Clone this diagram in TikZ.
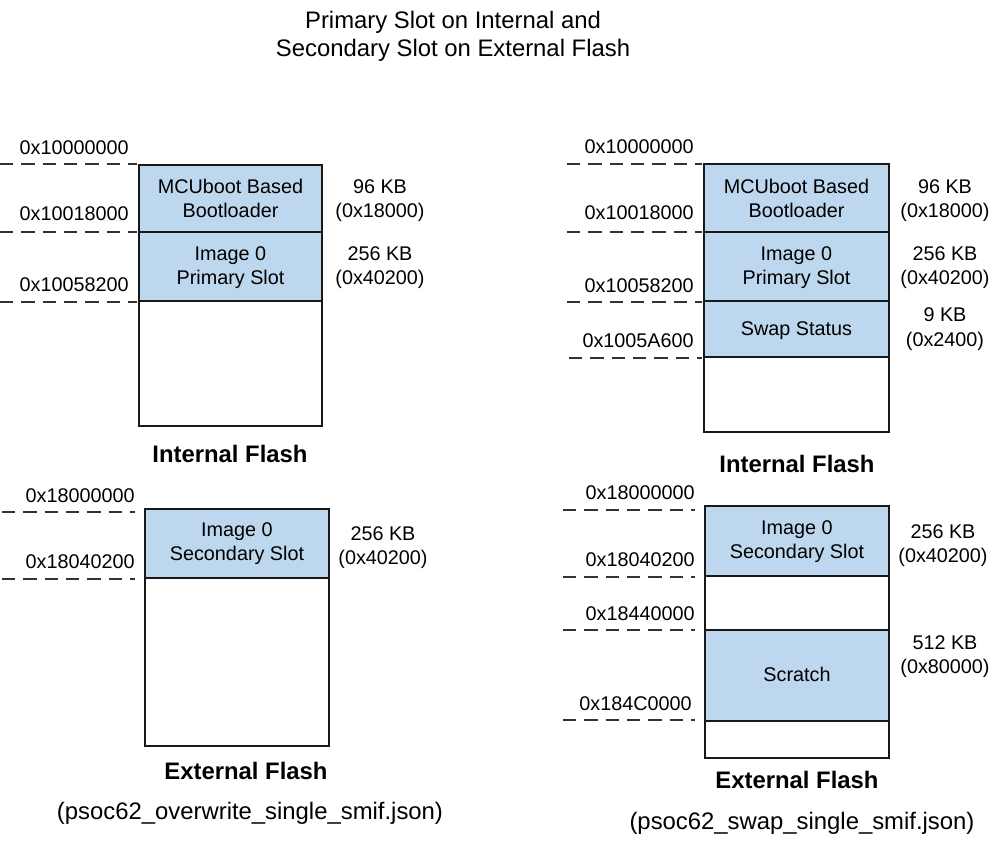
\documentclass[tikz,border=0pt]{standalone}
\usepackage{fontspec}
\setmainfont{Liberation Sans}
\definecolor{segblue}{RGB}{189,215,238}
\definecolor{boxline}{RGB}{25,25,25}
\definecolor{dashcol}{RGB}{50,50,50}
\newcommand\fsm{\fontsize{14.85pt}{18pt}\selectfont}
\newcommand\flg{\fontsize{17.9pt}{21pt}\selectfont}
\begin{document}
\begin{tikzpicture}[
  x=0.75pt, y=-0.75pt,
  seg/.style 2 args={draw=boxline, line width=1.5pt, inner sep=0pt, outer sep=0pt,
    anchor=north west, minimum width=#1*0.75pt, minimum height=#2*0.75pt},
  filled/.style={fill=segblue},
  txt/.style={font=\fsm, anchor=base, inner sep=0pt},
  addr/.style={font=\fsm, anchor=base east, inner sep=0pt},
  ttl/.style={font=\flg, anchor=base, inner sep=0pt},
  capb/.style={font=\flg\bfseries, anchor=base, inner sep=0pt},
  dline/.style={draw=dashcol, line width=1.5pt, dash pattern=on 10pt off 6pt},
]
\useasboundingbox (0,0) rectangle (1001,848);

% Title
\node[ttl] (t1) at (453,28.5) {Primary Slot on Internal and};
\node[ttl] (t2) at (453,56.5) {Secondary Slot on External Flash};

% ---------- Left top: internal flash (overwrite)
\node[seg={183}{67},filled] (A1) at (139,165) {};
\node[seg={183}{69},filled] (A2) at (139,232) {};
\node[seg={183}{125}] (A3) at (139,301) {};
\node[txt] (A1a) at (230.5,194) {MCUboot Based};
\node[txt] (A1b) at (230.5,218) {Bootloader};
\node[txt] (A2a) at (230.5,261) {Image 0};
\node[txt] (A2b) at (230.5,285) {Primary Slot};
\node[txt] (A1s) at (380,194) {96 KB};
\node[txt] (A1t) at (380,218) {(0x18000)};
\node[txt] (A2s) at (380,261) {256 KB};
\node[txt] (A2t) at (380,285) {(0x40200)};
\node[addr] (Aa0) at (129,155) {0x10000000};
\node[addr] (Aa1) at (129,221) {0x10018000};
\node[addr] (Aa2) at (129,292) {0x10058200};
\coordinate (Ad0s) at (0,164);  \coordinate (Ad0e) at (137,164);
\coordinate (Ad1s) at (0,232);  \coordinate (Ad1e) at (137,232);
\coordinate (Ad2s) at (0,302);  \coordinate (Ad2e) at (137,302);
\draw[dline] (Ad0s) -- (Ad0e);
\draw[dline] (Ad1s) -- (Ad1e);
\draw[dline] (Ad2s) -- (Ad2e);
\node[capb] (Acap) at (230,462.5) {Internal Flash};

% ---------- Right top: internal flash (swap)
\node[seg={185}{68},filled] (B1) at (704,164) {};
\node[seg={185}{69},filled] (B2) at (704,232) {};
\node[seg={185}{56},filled] (B3) at (704,301) {};
\node[seg={185}{75}] (B4) at (704,357) {};
\node[txt] (B1a) at (796.5,194) {MCUboot Based};
\node[txt] (B1b) at (796.5,218) {Bootloader};
\node[txt] (B2a) at (796.5,261) {Image 0};
\node[txt] (B2b) at (796.5,285) {Primary Slot};
\node[txt] (B3a) at (796.5,336) {Swap Status};
\node[txt] (B1s) at (945,194) {96 KB};
\node[txt] (B1t) at (945,218) {(0x18000)};
\node[txt] (B2s) at (945,261) {256 KB};
\node[txt] (B2t) at (945,285) {(0x40200)};
\node[txt] (B3s) at (945,322) {9 KB};
\node[txt] (B3t) at (945,347) {(0x2400)};
\node[addr] (Ba0) at (694,154) {0x10000000};
\node[addr] (Ba1) at (694,220) {0x10018000};
\node[addr] (Ba2) at (694,293) {0x10058200};
\node[addr] (Ba3) at (694,348) {0x1005A600};
\coordinate (Bd0s) at (567,164);  \coordinate (Bd0e) at (702,164);
\coordinate (Bd1s) at (567,232);  \coordinate (Bd1e) at (702,232);
\coordinate (Bd2s) at (567,302);  \coordinate (Bd2e) at (702,302);
\coordinate (Bd3s) at (569,358);  \coordinate (Bd3e) at (702,358);
\draw[dline] (Bd0s) -- (Bd0e);
\draw[dline] (Bd1s) -- (Bd1e);
\draw[dline] (Bd2s) -- (Bd2e);
\draw[dline] (Bd3s) -- (Bd3e);
\node[capb] (Bcap) at (797,472.5) {Internal Flash};

% ---------- Left bottom: external flash (overwrite)
\node[seg={184}{69},filled] (C1) at (145,509) {};
\node[seg={184}{168}] (C2) at (145,578) {};
\node[txt] (C1a) at (237,537) {Image 0};
\node[txt] (C1b) at (237,561) {Secondary Slot};
\node[txt] (C1s) at (383,541) {256 KB};
\node[txt] (C1t) at (383,565) {(0x40200)};
\node[addr] (Ca0) at (135,503) {0x18000000};
\node[addr] (Ca1) at (135,569) {0x18040200};
\coordinate (Cd0s) at (2,512);  \coordinate (Cd0e) at (135,512);
\coordinate (Cd1s) at (2,579);  \coordinate (Cd1e) at (135,579);
\draw[dline] (Cd0s) -- (Cd0e);
\draw[dline] (Cd1s) -- (Cd1e);
\node[capb] (Ccap) at (246,779.5) {External Flash};
\node[ttl] (Cjson) at (250,820) {(psoc62\_overwrite\_single\_smif.json)};

% ---------- Right bottom: external flash (swap)
\node[seg={184}{70},filled] (D1) at (705,506) {};
\node[seg={184}{54}] (D2) at (705,576) {};
\node[seg={184}{91},filled] (D3) at (705,630) {};
\node[seg={184}{37}] (D4) at (705,721) {};
\node[txt] (D1a) at (797,535) {Image 0};
\node[txt] (D1b) at (797,559) {Secondary Slot};
\node[txt] (D3a) at (797,682) {Scratch};
\node[txt] (D1s) at (943,539) {256 KB};
\node[txt] (D1t) at (943,563) {(0x40200)};
\node[txt] (D3s) at (945,650) {512 KB};
\node[txt] (D3t) at (945,674) {(0x80000)};
\node[addr] (Da0) at (695,500) {0x18000000};
\node[addr] (Da1) at (695,567) {0x18040200};
\node[addr] (Da2) at (695,621) {0x18440000};
\node[addr] (Da3) at (692,711) {0x184C0000};
\coordinate (Dd0s) at (563,510);  \coordinate (Dd0e) at (695,510);
\coordinate (Dd1s) at (563,577);  \coordinate (Dd1e) at (695,577);
\coordinate (Dd2s) at (563,630);  \coordinate (Dd2e) at (695,630);
\coordinate (Dd3s) at (563,720);  \coordinate (Dd3e) at (695,720);
\draw[dline] (Dd0s) -- (Dd0e);
\draw[dline] (Dd1s) -- (Dd1e);
\draw[dline] (Dd2s) -- (Dd2e);
\draw[dline] (Dd3s) -- (Dd3e);
\node[capb] (Dcap) at (797,788.5) {External Flash};
\node[ttl] (Djson) at (802,830) {(psoc62\_swap\_single\_smif.json)};
\end{tikzpicture}
\end{document}
